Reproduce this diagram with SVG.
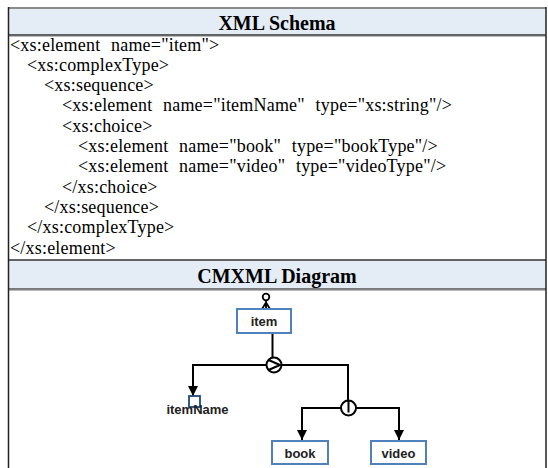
<svg xmlns="http://www.w3.org/2000/svg" width="548" height="468" viewBox="0 0 548 468">
  <style>
    .hdr { fill: #e4ecf6; }
    .title { font-family: "Liberation Serif", "Times New Roman", serif; font-size: 20px; font-weight: bold; fill: #000; text-anchor: middle; }
    .code { font-family: "Liberation Serif", "Times New Roman", serif; font-size: 18px; letter-spacing: 0.2px; word-spacing: 6px; fill: #000; }
    .box { fill: #fff; stroke: #4f81bd; stroke-width: 2; }
    .lbl { font-family: "Liberation Sans", Arial, sans-serif; font-size: 13px; font-weight: bold; fill: #222; text-anchor: middle; }
    .wire { fill: none; stroke: #000; stroke-width: 2; }
    .sym { fill: #fff; stroke: #000; stroke-width: 2; }
  </style>
  <defs>
    <marker id="arrow" viewBox="0 0 10 10" refX="10" refY="5" markerWidth="5" markerHeight="5" markerUnits="strokeWidth" orient="auto">
      <path d="M0,0 L10,5 L0,10 Z" fill="#000"/>
    </marker>
  </defs>

  <rect width="548" height="468" fill="#fff"/>

  <!-- table frame -->
  <g id="frame">
    <rect class="hdr" x="8" y="8" width="538" height="27"/>
    <rect class="hdr" x="8" y="260" width="538" height="29"/>
    <line x1="8" y1="8" x2="546" y2="8" stroke="#8a8a8a" stroke-width="2"/>
    <line x1="8" y1="35" x2="546" y2="35" stroke="#333" stroke-width="1.5"/>
    <line x1="8" y1="36.5" x2="546" y2="36.5" stroke="#bbb" stroke-width="1"/>
    <line x1="8" y1="260" x2="546" y2="260" stroke="#333" stroke-width="1.5"/>
    <line x1="8" y1="289" x2="546" y2="289" stroke="#555" stroke-width="1.5"/>
    <line x1="8" y1="290.5" x2="546" y2="290.5" stroke="#bbb" stroke-width="1"/>
    <line x1="8.5" y1="7" x2="8.5" y2="468" stroke="#222" stroke-width="1.5"/>
    <line x1="546" y1="7" x2="546" y2="468" stroke="#222" stroke-width="1.5"/>
  </g>

  <text class="title" x="277" y="30">XML Schema</text>
  <text class="title" x="277" y="283">CMXML Diagram</text>

  <!-- schema source -->
  <g id="schema-code" class="code">
    <text x="10" y="50.5">&lt;xs:element name="item"&gt;</text>
    <text x="27" y="70.8">&lt;xs:complexType&gt;</text>
    <text x="44" y="91.1">&lt;xs:sequence&gt;</text>
    <text x="62" y="111.4">&lt;xs:element name="itemName" type="xs:string"/&gt;</text>
    <text x="62" y="131.7">&lt;xs:choice&gt;</text>
    <text x="78" y="152">&lt;xs:element name="book" type="bookType"/&gt;</text>
    <text x="78" y="172.3">&lt;xs:element name="video" type="videoType"/&gt;</text>
    <text x="62" y="192.6">&lt;/xs:choice&gt;</text>
    <text x="44" y="212.9">&lt;/xs:sequence&gt;</text>
    <text x="27" y="233.2">&lt;/xs:complexType&gt;</text>
    <text x="10" y="253.5">&lt;/xs:element&gt;</text>
  </g>

  <!-- connectors -->
  <g id="connectors" class="wire">
    <line x1="272.5" y1="333" x2="272.5" y2="358"/>
    <polyline points="193,396 193,365 348,365 348,402"/>
    <line x1="193" y1="380" x2="193" y2="396" marker-end="url(#arrow)"/>
    <polyline points="302,440 302,408 399,408 399,440"/>
    <line x1="302" y1="425" x2="302" y2="440" marker-end="url(#arrow)"/>
    <line x1="399" y1="425" x2="399" y2="440" marker-end="url(#arrow)"/>
  </g>

  <!-- sequence compositor -->
  <g id="sequence">
    <circle class="sym" cx="274" cy="365" r="7.5"/>
    <polyline class="wire" points="268.5,360 280,365 268.5,370"/>
  </g>

  <!-- choice compositor -->
  <g id="choice">
    <circle class="sym" cx="348.5" cy="408" r="7.5"/>
    <line class="wire" x1="348.5" y1="401" x2="348.5" y2="412.5"/>
  </g>

  <!-- root element with its global marker -->
  <g id="item">
    <circle cx="266" cy="297" r="3.3" fill="#fff" stroke="#000" stroke-width="1.8"/>
    <path d="M266,300.5 L266,309 M266,302.5 L262,309 M266,302.5 L270,309" fill="none" stroke="#000" stroke-width="1.8"/>
    <rect class="box" x="237" y="309" width="54" height="24"/>
    <text class="lbl" x="264" y="326">item</text>
  </g>

  <g id="itemName">
    <rect x="189" y="396" width="11" height="11" fill="#fff" stroke="#1f497d" stroke-width="1.8"/>
    <text class="lbl" x="197.5" y="413.5">itemName</text>
  </g>

  <g id="book">
    <rect class="box" x="272" y="441" width="56" height="23"/>
    <text class="lbl" x="300" y="457.5">book</text>
  </g>

  <g id="video">
    <rect class="box" x="371" y="441" width="55" height="23"/>
    <text class="lbl" x="398.5" y="457.5">video</text>
  </g>
</svg>
